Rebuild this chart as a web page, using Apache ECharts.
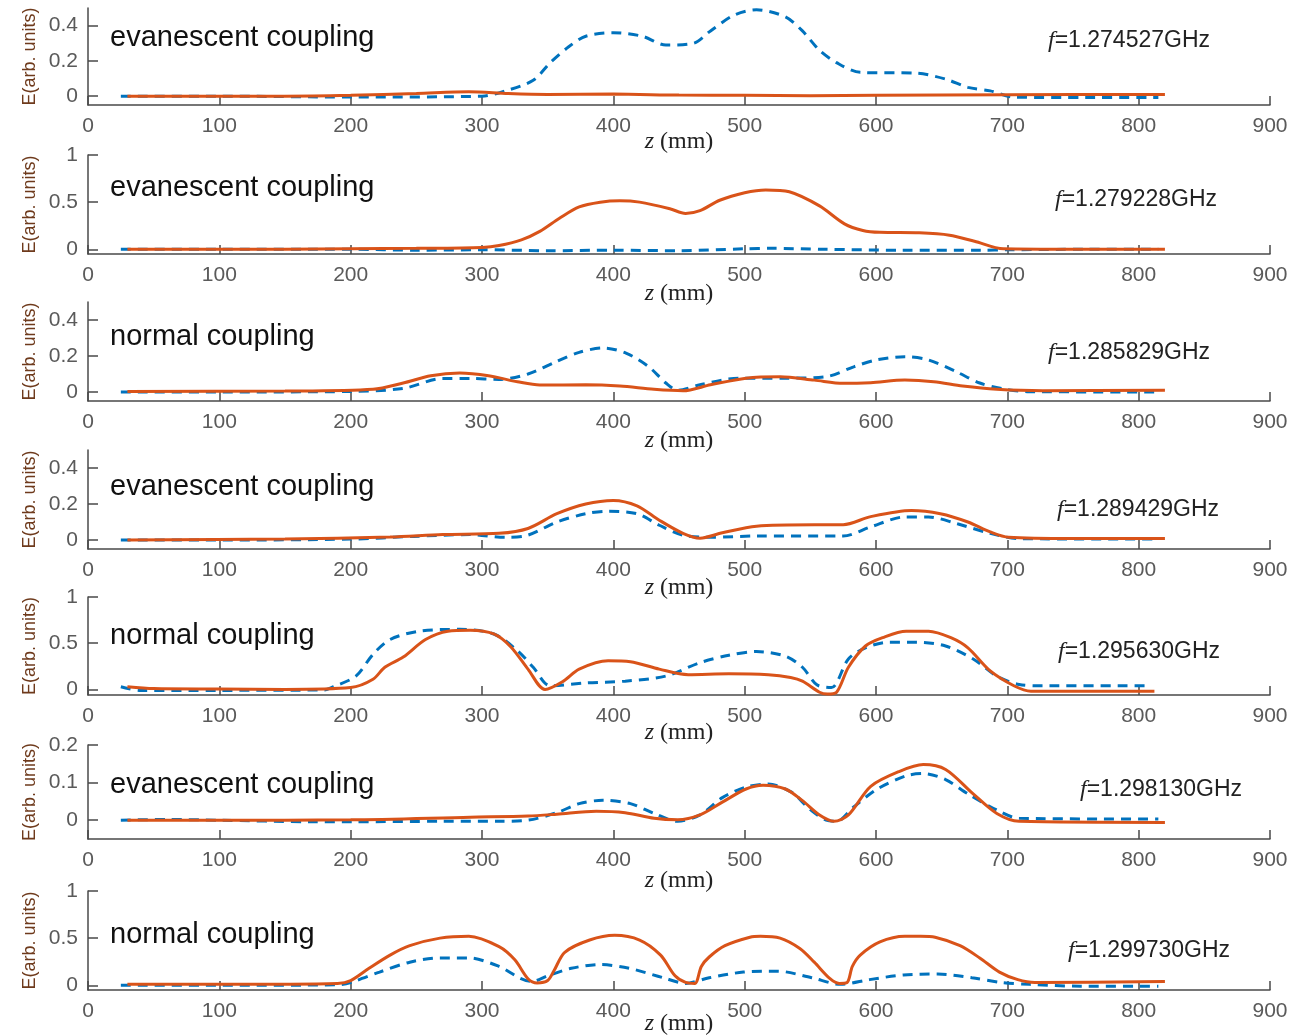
<!DOCTYPE html>
<html><head><meta charset="utf-8">
<script src="https://cdn.jsdelivr.net/npm/echarts@6/dist/echarts.min.js"></script>
<style>html,body{margin:0;padding:0;background:#fff}#c{width:1293px;height:1036px}</style>
</head><body><div id="c"></div>
<script>
// ---------- data ----------
const frequencies = ['1.274527', '1.279228', '1.285829', '1.289429', '1.295630', '1.298130', '1.299730'];
const couplingLabels = ['evanescent coupling', 'evanescent coupling', 'normal coupling', 'evanescent coupling', 'normal coupling', 'evanescent coupling', 'normal coupling'];
const yMin = [-0.05, -0.05, -0.05, -0.05, -0.06, -0.05, -0.05];
const yMax = [0.5, 1, 0.5, 0.5, 1, 0.2, 1];
const yTicks = [[0, 0.2, 0.4], [0, 0.5, 1], [0, 0.2, 0.4], [0, 0.2, 0.4], [0, 0.5, 1], [0, 0.1, 0.2], [0, 0.5, 1]];
const xTickStep = 100;
const xRange = [0, 900];

// panel 1  f=1.274527GHz
const p1BlueZ = [25, 100, 200, 300, 318, 339, 352, 366, 379, 400, 422, 440, 461, 474, 492, 509, 531, 544, 557, 570, 588, 631, 653, 670, 687, 705, 760, 815];
const p1BlueE = [0, 0, -0.005, 0, 0.03, 0.09, 0.19, 0.28, 0.34, 0.36, 0.34, 0.29, 0.30, 0.37, 0.46, 0.49, 0.45, 0.37, 0.26, 0.19, 0.135, 0.13, 0.097, 0.05, 0.03, -0.005, -0.008, -0.008];
const p1OrangeZ = [30, 150, 200, 250, 290, 320, 350, 400, 450, 500, 550, 600, 700, 820];
const p1OrangeE = [0, 0, 0.005, 0.015, 0.025, 0.015, 0.01, 0.012, 0.006, 0.005, 0.003, 0.005, 0.008, 0.01];

// panel 2  f=1.279228GHz
const p2BlueZ = [25, 100, 200, 250, 300, 350, 400, 450, 500, 520, 560, 620, 680, 700, 760, 815];
const p2BlueE = [0, 0, 0, -0.01, -0.005, -0.015, -0.01, -0.015, 0.005, 0.01, 0, -0.01, -0.01, -0.005, 0, 0];
const p2OrangeZ = [30, 150, 200, 250, 300, 313, 330, 344, 359, 374, 390, 405, 420, 443, 455, 466, 481, 500, 516, 534, 557, 576, 590, 603, 633, 656, 675, 697, 750, 820];
const p2OrangeE = [0, 0, 0.005, 0.01, 0.02, 0.04, 0.1, 0.19, 0.33, 0.45, 0.5, 0.515, 0.5, 0.43, 0.38, 0.41, 0.52, 0.6, 0.63, 0.61, 0.46, 0.27, 0.2, 0.18, 0.175, 0.15, 0.085, 0.005, 0, 0];

// panel 3  f=1.285829GHz
const p3BlueZ = [25, 100, 200, 240, 270, 291, 313, 335, 357, 374, 392, 410, 427, 440, 449, 466, 496, 531, 562, 583, 600, 622, 640, 661, 679, 697, 715, 815];
const p3BlueE = [0, 0, 0.003, 0.02, 0.075, 0.075, 0.07, 0.10, 0.17, 0.22, 0.245, 0.215, 0.14, 0.05, 0.01, 0.04, 0.077, 0.077, 0.085, 0.14, 0.178, 0.196, 0.178, 0.113, 0.05, 0.017, 0.002, 0];
const p3OrangeZ = [30, 150, 217, 240, 261, 283, 305, 327, 344, 379, 405, 431, 453, 474, 501, 527, 553, 575, 596, 622, 644, 666, 692, 727, 820];
const p3OrangeE = [0.003, 0.005, 0.015, 0.05, 0.09, 0.105, 0.09, 0.057, 0.039, 0.04, 0.033, 0.015, 0.007, 0.04, 0.077, 0.085, 0.066, 0.048, 0.052, 0.066, 0.057, 0.033, 0.015, 0.007, 0.01];

// panel 4  f=1.289429GHz
const p4BlueZ = [25, 100, 200, 248, 291, 318, 335, 357, 379, 396, 418, 435, 453, 475, 509, 575, 596, 622, 640, 662, 687, 709, 815];
const p4BlueE = [0, 0, 0.005, 0.02, 0.03, 0.015, 0.027, 0.1, 0.146, 0.16, 0.146, 0.082, 0.027, 0.015, 0.022, 0.022, 0.073, 0.128, 0.128, 0.09, 0.037, 0.007, 0.005];
const p4OrangeZ = [30, 150, 230, 270, 313, 335, 357, 379, 400, 418, 435, 453, 466, 483, 509, 553, 575, 596, 627, 649, 670, 687, 701, 750, 820];
const p4OrangeE = [0, 0.005, 0.016, 0.03, 0.037, 0.064, 0.146, 0.2, 0.22, 0.19, 0.11, 0.037, 0.01, 0.04, 0.077, 0.085, 0.085, 0.13, 0.164, 0.146, 0.1, 0.045, 0.015, 0.008, 0.008];

// panel 5  f=1.295630GHz
const p5BlueZ = [25, 40, 100, 180, 187, 204, 217, 230, 252, 283, 309, 327, 339, 352, 379, 409, 440, 466, 488, 509, 531, 544, 555, 566, 579, 592, 609, 631, 653, 674, 692, 709, 727, 805];
const p5BlueE = [0.03, -0.01, -0.01, -0.005, 0.03, 0.145, 0.38, 0.54, 0.63, 0.65, 0.6, 0.42, 0.24, 0.04, 0.07, 0.09, 0.145, 0.29, 0.37, 0.41, 0.36, 0.24, 0.05, 0.02, 0.33, 0.45, 0.51, 0.51, 0.47, 0.33, 0.145, 0.054, 0.04, 0.04];
const p5OrangeZ = [30, 50, 100, 150, 200, 217, 226, 240, 257, 274, 291, 309, 322, 335, 348, 362, 374, 396, 413, 435, 457, 488, 518, 535, 544, 557, 563, 570, 579, 592, 605, 623, 640, 657, 670, 687, 705, 718, 812];
const p5OrangeE = [0.03, 0.01, 0.005, 0, 0.02, 0.11, 0.24, 0.35, 0.54, 0.63, 0.64, 0.6, 0.46, 0.22, 0.0, 0.09, 0.22, 0.31, 0.3, 0.22, 0.16, 0.17, 0.16, 0.13, 0.09, -0.03, -0.05, -0.03, 0.24, 0.47, 0.56, 0.63, 0.63, 0.56, 0.45, 0.2, 0.04, -0.02, -0.02];

// panel 6  f=1.298130GHz
const p6BlueZ = [25, 60, 100, 170, 200, 270, 313, 335, 357, 374, 392, 413, 431, 449, 466, 483, 501, 518, 536, 549, 562, 570, 583, 601, 623, 636, 653, 670, 692, 709, 815];
const p6BlueE = [0, 0.002, 0, -0.004, -0.004, -0.003, -0.003, 0, 0.02, 0.044, 0.053, 0.044, 0.018, -0.003, 0.014, 0.06, 0.088, 0.096, 0.074, 0.031, 0, -0.003, 0.035, 0.083, 0.118, 0.124, 0.108, 0.07, 0.027, 0.005, 0.003];
const p6OrangeZ = [30, 100, 200, 291, 335, 357, 387, 409, 431, 449, 466, 483, 501, 514, 531, 544, 557, 568, 579, 596, 618, 636, 653, 674, 692, 709, 820];
const p6OrangeE = [0, 0, 0.001, 0.008, 0.011, 0.016, 0.024, 0.02, 0.005, 0.001, 0.014, 0.048, 0.083, 0.093, 0.083, 0.052, 0.014, -0.003, 0.014, 0.09, 0.13, 0.148, 0.135, 0.07, 0.018, -0.003, -0.006];

// panel 7  f=1.299730GHz
const p7BlueZ = [25, 100, 190, 200, 222, 245, 268, 290, 313, 329, 338, 350, 368, 390, 412, 438, 455, 473, 499, 525, 551, 573, 595, 621, 647, 673, 695, 717, 756, 815];
const p7BlueE = [0, 0, 0.005, 0.03, 0.14, 0.245, 0.29, 0.29, 0.2, 0.075, 0.04, 0.1, 0.18, 0.22, 0.18, 0.08, 0.02, 0.08, 0.14, 0.15, 0.08, 0.01, 0.06, 0.11, 0.12, 0.08, 0.03, 0.01, -0.01, -0.01];
const p7OrangeZ = [30, 100, 190, 200, 214, 230, 245, 268, 290, 313, 325, 335, 342, 350, 355, 363, 382, 401, 420, 436, 447, 455, 462, 467, 473, 485, 504, 512, 527, 542, 553, 565, 572, 578, 582, 588, 603, 622, 634, 645, 664, 679, 694, 708, 721, 820];
const p7OrangeE = [0.01, 0.01, 0.02, 0.05, 0.18, 0.32, 0.42, 0.5, 0.52, 0.41, 0.27, 0.07, 0.025, 0.05, 0.16, 0.35, 0.48, 0.53, 0.48, 0.32, 0.1, 0.03, 0.02, 0.2, 0.3, 0.42, 0.51, 0.52, 0.5, 0.39, 0.245, 0.07, 0.02, 0.03, 0.2, 0.32, 0.46, 0.52, 0.52, 0.51, 0.42, 0.29, 0.14, 0.06, 0.03, 0.04];

const blueZ = [p1BlueZ, p2BlueZ, p3BlueZ, p4BlueZ, p5BlueZ, p6BlueZ, p7BlueZ];
const blueE = [p1BlueE, p2BlueE, p3BlueE, p4BlueE, p5BlueE, p6BlueE, p7BlueE];
const orangeZ = [p1OrangeZ, p2OrangeZ, p3OrangeZ, p4OrangeZ, p5OrangeZ, p6OrangeZ, p7OrangeZ];
const orangeE = [p1OrangeE, p2OrangeE, p3OrangeE, p4OrangeE, p5OrangeE, p6OrangeE, p7OrangeE];

// ---------- layout ----------
const gridTops = [8, 155, 302, 450, 597, 745, 891];
const gridHeights = [97, 99, 99, 99, 98, 94, 99];
const xNameGaps = [25, 28, 28, 27, 26, 30, 22];
const couplingY = [40, 190, 339, 489, 638, 787, 937];
const freqX = [1048, 1055, 1048, 1057, 1058, 1080, 1068];
const freqY = [42, 201, 354, 511, 653, 791, 952];

const BLUE = '#0072BD', ORANGE = '#D95319';
const AXIS = '#4a4a4a', TICKTXT = '#5a5a5a';
const zip = (a, b) => a.map((v, i) => [v, b[i]]);

const grids = [], xAxes = [], yAxes = [], series = [], graphics = [];
for (let i = 0; i < 7; i++) {
  grids.push({ left: 88, width: 1182, top: gridTops[i], height: gridHeights[i], containLabel: false, outerBoundsMode: 'none' });
  xAxes.push({
    type: 'value', gridIndex: i, min: xRange[0], max: xRange[1], interval: xTickStep,
    name: '{i|z} (mm)', nameLocation: 'middle', nameGap: xNameGaps[i], nameMoveOverlap: false,
    nameTextStyle: { fontFamily: 'Liberation Serif', fontSize: 24, color: '#222',
      rich: { i: { fontFamily: 'Liberation Serif', fontStyle: 'italic', fontSize: 24, color: '#222' } } },
    axisLine: { show: true, onZero: false, lineStyle: { color: AXIS, width: 1.5 } },
    axisTick: { show: true, inside: true, length: 9, lineStyle: { color: AXIS, width: 1.5 } },
    axisLabel: { margin: 11, fontFamily: 'Liberation Sans', fontSize: 21, color: TICKTXT },
    splitLine: { show: false }
  });
  yAxes.push({
    type: 'value', gridIndex: i, min: yMin[i], max: yMax[i],
    name: 'E(arb. units)', nameLocation: 'middle', nameGap: 49, nameRotate: 90, nameMoveOverlap: false,
    nameTextStyle: { fontFamily: 'Liberation Sans', fontSize: 18, color: '#6e3a1c' },
    axisLine: { show: true, onZero: false, lineStyle: { color: AXIS, width: 1.5 } },
    axisTick: { show: true, inside: true, length: 10, customValues: yTicks[i], lineStyle: { color: AXIS, width: 1.5 } },
    axisLabel: { margin: 10, fontFamily: 'Liberation Sans', fontSize: 21, color: TICKTXT, customValues: yTicks[i] },
    splitLine: { show: false }
  });
  series.push({
    type: 'line', xAxisIndex: i, yAxisIndex: i, data: zip(blueZ[i], blueE[i]),
    showSymbol: false, smooth: 0.3, lineStyle: { color: BLUE, width: 3, type: [10, 7] }, z: 2
  });
  series.push({
    type: 'line', xAxisIndex: i, yAxisIndex: i, data: zip(orangeZ[i], orangeE[i]),
    showSymbol: false, smooth: 0.3, lineStyle: { color: ORANGE, width: 3 }, z: 3
  });
  graphics.push({
    type: 'text', left: 110, top: couplingY[i] - 17,
    style: { text: couplingLabels[i], font: '29px "Liberation Sans"', fill: '#111' }
  });
  graphics.push({
    type: 'text', left: freqX[i], top: freqY[i] - 13,
    style: {
      text: '{f|f}{n|=' + frequencies[i] + 'GHz}',
      rich: {
        f: { fontFamily: 'Liberation Serif', fontStyle: 'italic', fontSize: 24, fill: '#222' },
        n: { fontFamily: 'Liberation Sans', fontSize: 23, fill: '#222' }
      }
    }
  });
}

const chart = echarts.init(document.getElementById('c'), null, { renderer: 'canvas' });
chart.setOption({
  animation: false, backgroundColor: '#fff',
  grid: grids, xAxis: xAxes, yAxis: yAxes, series: series, graphic: graphics
});
</script></body></html>
